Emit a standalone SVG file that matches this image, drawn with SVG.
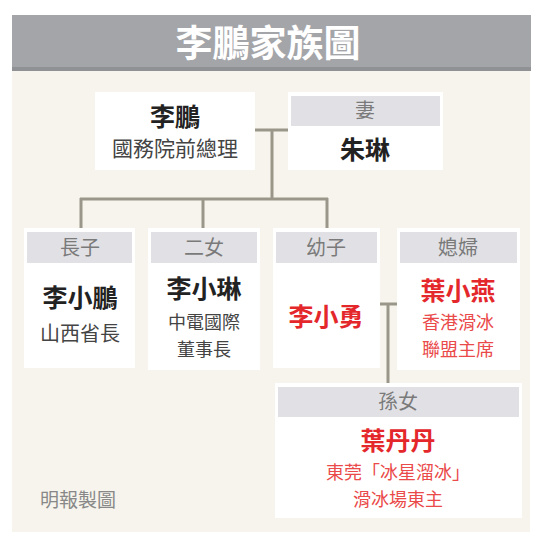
<svg xmlns="http://www.w3.org/2000/svg" width="540" height="540" viewBox="0 0 540 540">
<style>
text{font-family:"Noto Sans CJK TC","Noto Sans CJK SC",sans-serif;text-anchor:middle}
.box{fill:#ffffff}
.hdr{fill:#e1e1e5}
.lbl{font-size:20px;fill:#7a7a7a}
.name{font-size:25px;font-weight:bold;fill:#222}
.desc{font-size:20px;fill:#444}
.desc2{font-size:18px;fill:#444}
.rname{font-size:25px;font-weight:bold;fill:#e4272b}
.rdesc{font-size:18px;fill:#ea4a4a}
.ln{stroke:#9a968a;stroke-width:3;fill:none}
</style>
<rect x="0" y="0" width="540" height="540" fill="#ffffff"/>
<rect x="12" y="70" width="518" height="462" fill="#f6f4ec"/>
<rect x="12" y="15" width="519" height="55" fill="#a4a5a9"/>
<rect x="12" y="67" width="519" height="4" fill="#909195"/>
<text x="268" y="57" style="font-size:37px;font-weight:bold;fill:#ffffff">李鵬家族圖</text>

<g id="connectors">
<path class="ln" d="M255 130 H288 M272 130 V199 M80 199 H328 M81 198 V228 M203 198 V228 M327 198 V228"/>
<path class="ln" d="M380 304 H397 M388 304 V385"/>
</g>

<g id="lipeng">
<rect class="box" x="95" y="92" width="160" height="78"/>
<text class="name" x="175" y="126">李鵬</text>
<text class="desc" x="175" y="156" style="font-size:21px">國務院前總理</text>
</g>

<g id="zhulin">
<rect class="box" x="288" y="92" width="155" height="78"/>
<rect class="hdr" x="291" y="96" width="149" height="30"/>
<text class="lbl" x="365" y="118">妻</text>
<text class="name" x="365" y="159">朱琳</text>
</g>

<g id="lixiaopeng">
<rect class="box" x="24" y="228" width="111" height="140"/>
<rect class="hdr" x="27" y="232" width="105" height="31"/>
<text class="lbl" x="80" y="255">長子</text>
<text class="name" x="80" y="307">李小鵬</text>
<text class="desc" x="80" y="341">山西省長</text>
</g>

<g id="lixiaolin">
<rect class="box" x="148" y="228" width="112" height="142"/>
<rect class="hdr" x="151" y="232" width="106" height="31"/>
<text class="lbl" x="204" y="255">二女</text>
<text class="name" x="204" y="298">李小琳</text>
<text class="desc2" x="204" y="329">中電國際</text>
<text class="desc2" x="204" y="356">董事長</text>
</g>

<g id="lixiaoyong">
<rect class="box" x="273" y="228" width="107" height="140"/>
<rect class="hdr" x="276" y="232" width="101" height="31"/>
<text class="lbl" x="326" y="255">幼子</text>
<text class="rname" x="326" y="326">李小勇</text>
</g>

<g id="yexiaoyan">
<rect class="box" x="397" y="228" width="123" height="142"/>
<rect class="hdr" x="400" y="232" width="117" height="31"/>
<text class="lbl" x="458" y="255">媳婦</text>
<text class="rname" x="458" y="300">葉小燕</text>
<text class="rdesc" x="458" y="329">香港滑冰</text>
<text class="rdesc" x="458" y="356">聯盟主席</text>
</g>

<g id="yedandan">
<rect class="box" x="275" y="383" width="247" height="135"/>
<rect class="hdr" x="278" y="387" width="241" height="30"/>
<text class="lbl" x="398" y="409">孫女</text>
<text class="rname" x="398" y="450">葉丹丹</text>
<text class="rdesc" x="398" y="479">東莞「冰星溜冰」</text>
<text class="rdesc" x="398" y="506">滑冰場東主</text>
</g>

<text x="78" y="507" style="font-size:19px;fill:#888">明報製圖</text>
</svg>
